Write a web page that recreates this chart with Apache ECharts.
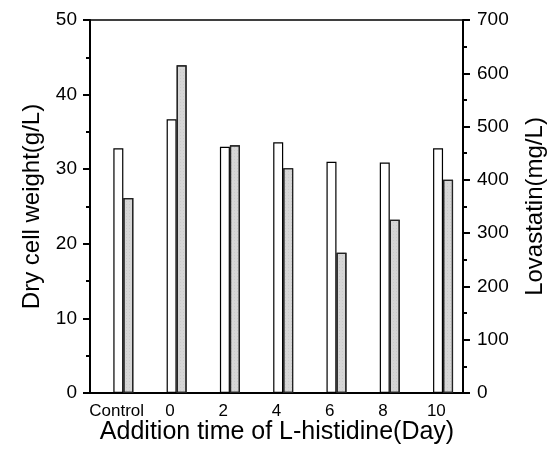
<!DOCTYPE html>
<html>
<head>
<meta charset="utf-8">
<script src="https://cdn.jsdelivr.net/npm/echarts@6/dist/echarts.min.js"></script>
<style>
html, body { margin: 0; padding: 0; background: #fff; }
#chart { width: 554px; height: 457px; }
</style>
</head>
<body>
<div id="chart"></div>
<script>
// Datos
const categories = ['Control', '0', '2', '4', '6', '8', '10'];
const dryCellWeight = [32.8, 36.7, 33.0, 33.6, 31.0, 30.9, 32.8];
const lovastatin = [366, 615, 465, 422, 263, 325, 400];
const leftTicks = [0, 50, 10];
const rightTicks = [0, 700, 100];

const font = 'Liberation Sans, Arial, sans-serif';
const chart = echarts.init(document.getElementById('chart'));

const option = {
  animation: false,
  backgroundColor: '#fff',
  // título del eje X colocado a mano
  title: {
    text: 'Addition time of L-histidine(Day)',
    left: 'center',
    top: 420,
    padding: 0,
    textStyle: { color: '#000', fontSize: 25, fontWeight: 'normal', fontFamily: font }
  },
  grid: {
    left: 90, right: 91, top: 20, bottom: 64,
    outerBoundsMode: 'none',
    show: true, borderColor: '#000', borderWidth: 1.5
  },
  xAxis: {
    type: 'category',
    data: categories,
    axisLine: { lineStyle: { color: '#000', width: 2 } },
    axisTick: { show: false },
    axisLabel: { color: '#000', fontSize: 17, fontFamily: font, margin: 10, interval: 0 }
  },
  yAxis: [
    {
      type: 'value',
      min: leftTicks[0], max: leftTicks[1], interval: leftTicks[2],
      position: 'left',
      axisLine: { show: true, lineStyle: { color: '#000', width: 2 } },
      axisTick: { show: true, length: 7, lineStyle: { color: '#000', width: 2 } },
      minorTick: { show: true, splitNumber: 2, length: 4, lineStyle: { color: '#000', width: 2 } },
      splitLine: { show: false },
      axisLabel: { color: '#000', fontSize: 19, fontFamily: font, margin: 13 },
      name: 'Dry cell weight(g/L)',
      nameLocation: 'middle',
      nameGap: 46,
      nameTextStyle: { color: '#000', fontSize: 24, fontFamily: font }
    },
    {
      type: 'value',
      min: rightTicks[0], max: rightTicks[1], interval: rightTicks[2],
      position: 'right',
      axisLine: { show: true, lineStyle: { color: '#000', width: 2 } },
      axisTick: { show: true, length: 7, lineStyle: { color: '#000', width: 2 } },
      minorTick: { show: true, splitNumber: 2, length: 4, lineStyle: { color: '#000', width: 2 } },
      splitLine: { show: false },
      axisLabel: { color: '#000', fontSize: 19, fontFamily: font, margin: 14 },
      name: 'Lovastatin(mg/L)',
      nameLocation: 'middle',
      nameGap: 60,
      nameRotate: 90,
      nameTextStyle: { color: '#000', fontSize: 24, fontFamily: font }
    }
  ],
  series: [
    {
      // hueco vacío para desplazar las barras a la derecha
      name: 'spacer',
      type: 'bar',
      yAxisIndex: 0,
      barWidth: 13.4,
      barGap: 0,
      data: categories.map(() => null),
      itemStyle: { color: 'transparent' },
      silent: true
    },
    {
      name: 'Dry cell weight',
      type: 'bar',
      yAxisIndex: 0,
      barWidth: 10,
      barGap: 0,
      data: dryCellWeight,
      itemStyle: { color: '#fff', borderColor: '#000', borderWidth: 1.2 }
    },
    {
      name: 'Lovastatin',
      type: 'bar',
      yAxisIndex: 1,
      barWidth: 10,
      barGap: 0,
      data: lovastatin,
      itemStyle: {
        color: '#d6d6d6', borderColor: '#222', borderWidth: 1.2,
        decal: {
          symbol: 'rect', symbolSize: 0.5, dashArrayX: [1, 2], dashArrayY: [1, 2],
          color: 'rgba(90,90,90,0.4)', rotation: 0
        }
      }
    }
  ]
};
chart.setOption(option);
</script>
</body>
</html>
